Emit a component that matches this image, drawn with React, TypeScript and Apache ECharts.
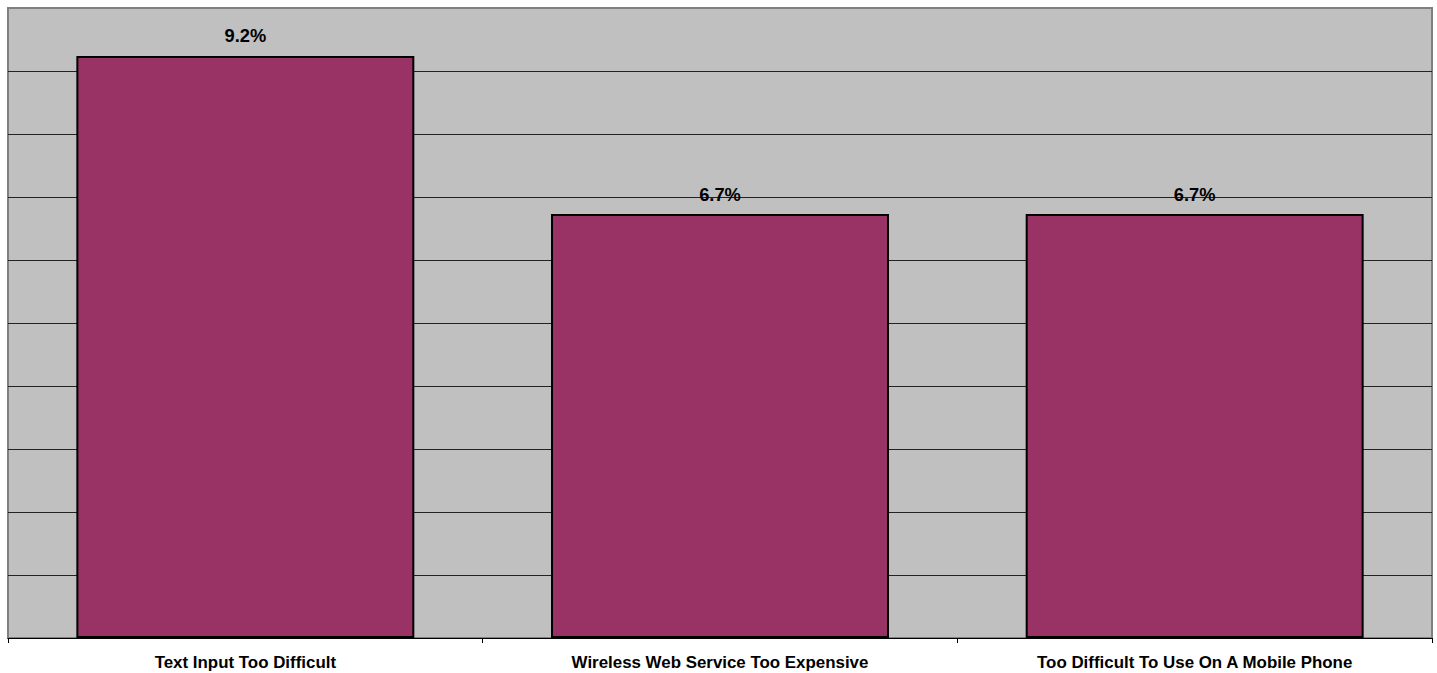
import React, { useEffect, useRef } from "react";
import * as echarts from "echarts";

const categories: string[] = [
  "Text Input Too Difficult",
  "Wireless Web Service Too Expensive",
  "Too Difficult To Use On A Mobile Phone",
];
const values: number[] = [9.24, 6.73, 6.73];
const yMin = 0;
const yMax = 10;
const yInterval = 1;

const FONT = "'Liberation Sans', Arial, sans-serif";

export default function App() {
  const ref = useRef<HTMLDivElement>(null);
  useEffect(() => {
    if (!ref.current) return;
    const chart = echarts.init(ref.current, undefined, { renderer: "svg" });
    chart.setOption({
      animation: false,
      backgroundColor: "#ffffff",
      grid: {
        left: 8,
        right: 5,
        top: 8,
        bottom: 35,
        show: true,
        backgroundColor: "#C0C0C0",
        borderColor: "#808080",
        borderWidth: 2,
      },
      xAxis: {
        type: "category",
        data: categories,
        axisLine: { show: true, lineStyle: { color: "#000", width: 1 } },
        axisTick: { show: true, length: 5, lineStyle: { color: "#000" } },
        axisLabel: {
          interval: 0,
          margin: 16,
          color: "#000",
          fontFamily: FONT,
          fontWeight: "bold",
          fontSize: 16.9,
        },
        splitLine: { show: false },
      },
      yAxis: {
        type: "value",
        min: yMin,
        max: yMax,
        interval: yInterval,
        axisLabel: { show: false },
        axisTick: { show: false },
        axisLine: { show: false },
        splitLine: {
          show: true,
          showMaxLine: false,
          showMinLine: false,
          lineStyle: { color: "#222", width: 1 },
        },
      },
      series: [
        {
          type: "bar",
          data: values,
          barWidth: "71.2%",
          itemStyle: { color: "#993366", borderColor: "#000", borderWidth: 2 },
          label: {
            show: true,
            position: "top",
            distance: 11,
            color: "#000",
            fontFamily: FONT,
            fontWeight: "bold",
            fontSize: 18.3,
            formatter: (p: any) => `${Number(p.value).toFixed(1)}%`,
          },
        },
      ],
    });
    return () => chart.dispose();
  }, []);
  return (
    <div
      ref={ref}
      style={{ position: "fixed", left: 0, top: 0, width: 1437, height: 673 }}
    />
  );
}
